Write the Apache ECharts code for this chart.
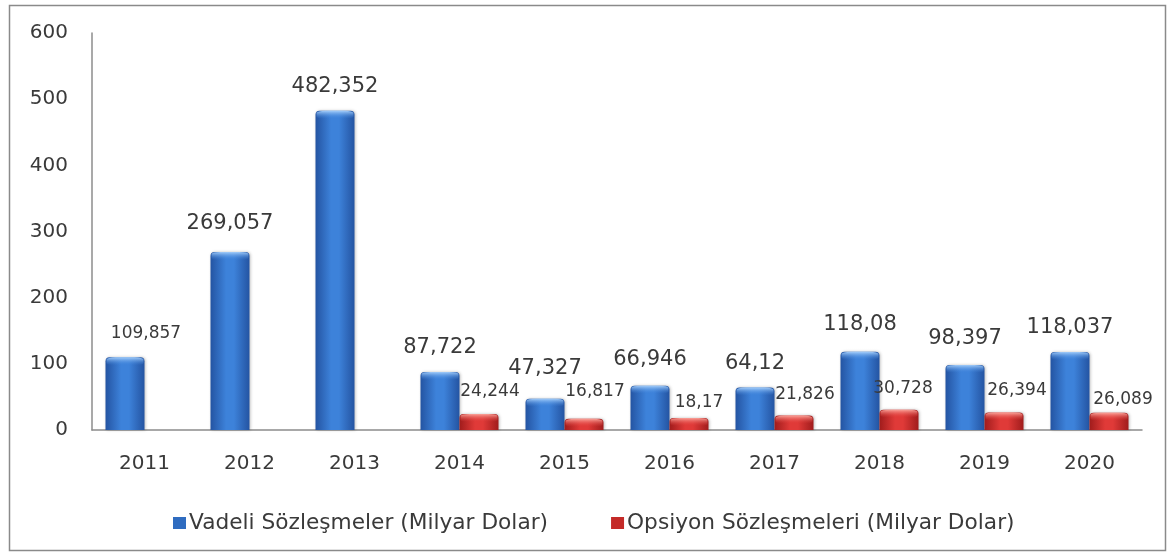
<!DOCTYPE html>
<html>
<head>
<meta charset="utf-8">
<script src="https://cdn.jsdelivr.net/npm/echarts@6/dist/echarts.min.js"></script>
<style>
  html, body { margin: 0; padding: 0; background: #ffffff; }
  #chart { width: 1172px; height: 557px; }
</style>
</head>
<body>
<div id="chart"></div>
<script>
// Yearly contract volumes (billion USD)
const years = ['2011', '2012', '2013', '2014', '2015', '2016', '2017', '2018', '2019', '2020'];
const futuresValues = [109.857, 269.057, 482.352, 87.722, 47.327, 66.946, 64.12, 118.08, 98.397, 118.037];
const optionsValues = [null, null, null, 24.244, 16.817, 18.17, 21.826, 30.728, 26.394, 26.089];
const yTicks = [0, 100, 200, 300, 400, 500, 600];
const seriesNames = ['Vadeli Sözleşmeler (Milyar Dolar)', 'Opsiyon Sözleşmeleri (Milyar Dolar)'];

// label nudges (x, y in px)
const futuresLabelShift = [[21, -1], [0, -4], null, null, [0, -6], [0, -2], null, [0, -3], [0, -2], null];
const optionLabelShift = [null, null, null, [11, -6], [11, -11], [10, 1], [11, -4], [4, -5], [13, -5], [14, 3]];

const FONT = 'DejaVu Sans';
const TEXT = '#3a3a3a';

function fmt(v) {
  return String(v).replace('.', ',');
}

function hGrad(edge, mid) {
  return new echarts.graphic.LinearGradient(0, 0, 1, 0, [
    { offset: 0, color: edge },
    { offset: 0.4, color: mid },
    { offset: 0.6, color: mid },
    { offset: 1, color: edge }
  ]);
}

function capGrad(light, base) {
  return new echarts.graphic.LinearGradient(0, 0, 0, 1, [
    { offset: 0, color: light },
    { offset: 1, color: base }
  ]);
}

const blueFill = hGrad('#2454a2', '#3d82da');
const redFill = hGrad('#a01c1c', '#e03a38');

const futuresData = futuresValues.map((v, i) => {
  const item = { value: v };
  const shift = futuresLabelShift[i];
  if (i === 0) {
    item.label = { fontSize: 17, offset: shift };
  } else if (shift) {
    item.label = { offset: shift };
  }
  return item;
});

const optionsData = optionsValues.map((v, i) => {
  if (v === null) return { value: null };
  return { value: v, label: { offset: optionLabelShift[i] } };
});

const chart = echarts.init(document.getElementById('chart'), null, { renderer: 'canvas' });

chart.setOption({
  animation: false,
  backgroundColor: '#ffffff',
  textStyle: { fontFamily: FONT, color: TEXT },
  graphic: [{
    type: 'rect',
    left: 7, top: 3,
    shape: { width: 1156, height: 545 },
    style: { fill: 'none', stroke: '#8a8a8a', lineWidth: 1.5 },
    z: -1
  }],
  grid: { left: 92, right: 30, top: 33, bottom: 127, containLabel: false },
  legend: {
    left: 168,
    top: 507,
    itemWidth: 13,
    itemHeight: 12,
    itemGap: 63,
    icon: 'rect',
    textStyle: { fontFamily: FONT, fontSize: 21.7, color: TEXT, padding: [0, 0, 0, -2] },
    data: [
      { name: seriesNames[0], itemStyle: { color: '#2f6cc0' } },
      { name: seriesNames[1], itemStyle: { color: '#c42a28' } }
    ]
  },
  xAxis: {
    type: 'category',
    data: years,
    axisLine: { show: true, lineStyle: { color: '#8c8c8c', width: 1.5 } },
    axisTick: { show: false },
    axisLabel: { fontFamily: FONT, fontSize: 20, color: TEXT, margin: 24 }
  },
  yAxis: {
    type: 'value',
    min: yTicks[0],
    max: yTicks[yTicks.length - 1],
    interval: yTicks[1] - yTicks[0],
    axisLine: { show: true, lineStyle: { color: '#8c8c8c', width: 1.5 } },
    axisTick: { show: false },
    splitLine: { show: false },
    axisLabel: { fontFamily: FONT, fontSize: 20, color: TEXT, margin: 24 }
  },
  series: [
    {
      name: seriesNames[0],
      type: 'bar',
      data: futuresData,
      barWidth: 39,
      barGap: '0%',
      itemStyle: {
        color: blueFill,
        borderRadius: [4, 4, 0, 0],
        shadowColor: 'rgba(0,0,0,0.25)',
        shadowBlur: 3,
        shadowOffsetX: 1
      },
      label: {
        show: true,
        position: 'top',
        distance: 14,
        fontFamily: FONT,
        fontSize: 21,
        color: TEXT,
        formatter: p => fmt(p.value)
      }
    },
    {
      name: seriesNames[1],
      type: 'bar',
      data: optionsData,
      barWidth: 39,
      itemStyle: {
        color: redFill,
        borderRadius: [4, 4, 0, 0],
        shadowColor: 'rgba(0,0,0,0.25)',
        shadowBlur: 3,
        shadowOffsetX: 1
      },
      label: {
        show: true,
        position: 'top',
        distance: 8,
        fontFamily: FONT,
        fontSize: 17,
        color: TEXT,
        formatter: p => (p.value == null ? '' : fmt(p.value))
      }
    },
    // bevelled highlight on top of each bar
    {
      name: 'capBlue',
      type: 'pictorialBar',
      data: futuresValues,
      symbol: 'roundRect',
      symbolSize: [37, 8],
      symbolPosition: 'end',
      symbolOffset: [-19.5, 0],
      itemStyle: { color: capGrad('rgba(170,210,252,0.95)', 'rgba(61,130,218,0)') },
      z: 3,
      silent: true
    },
    {
      name: 'capRed',
      type: 'pictorialBar',
      data: optionsValues,
      symbol: 'roundRect',
      symbolSize: [37, 8],
      symbolPosition: 'end',
      symbolOffset: [19.5, 0],
      itemStyle: { color: capGrad('rgba(252,170,160,0.95)', 'rgba(224,58,56,0)') },
      z: 3,
      silent: true
    }
  ]
});
</script>
</body>
</html>
